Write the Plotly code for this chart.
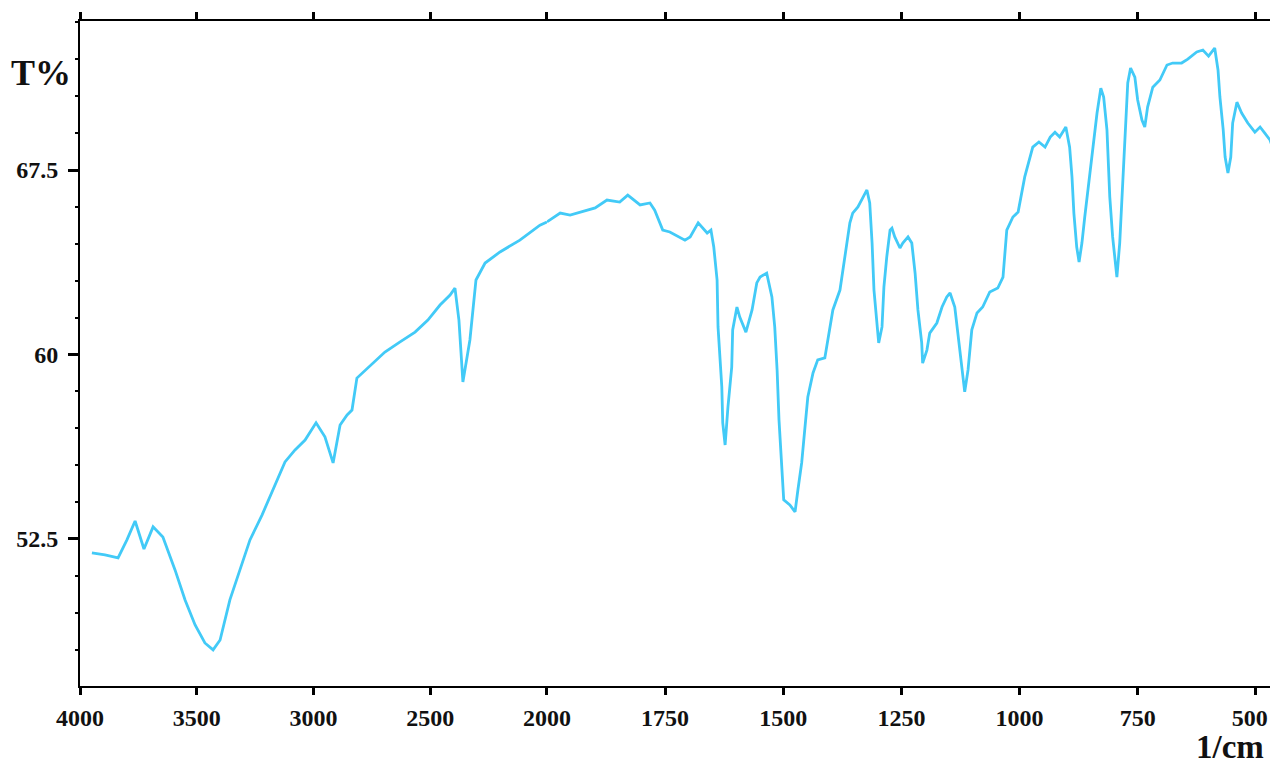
import plotly.graph_objects as go

# ---- data: wavenumber (1/cm) and transmittance (T%) ----
wn_high = [3949, 3893, 3837, 3799, 3764, 3726, 3687, 3645, 3593, 3550, 3507, 3465, 3430, 3400,
           3358, 3315, 3272, 3220, 3165, 3122, 3079, 3036, 2989, 2951, 2916, 2886, 2856, 2835,
           2814, 2758, 2694, 2629, 2565, 2510, 2458, 2415, 2394, 2377, 2360, 2330, 2304, 2265,
           2201, 2116, 2030, 2000]
t_high = [51.93, 51.85, 51.73, 52.46, 53.23, 52.09, 52.99, 52.58, 51.24, 50.02, 49.00, 48.27, 47.99, 48.39,
          50.02, 51.24, 52.46, 53.48, 54.70, 55.63, 56.12, 56.52, 57.22, 56.65, 55.59, 57.13, 57.54, 57.74,
          59.04, 59.53, 60.10, 60.51, 60.91, 61.40, 62.01, 62.42, 62.70, 61.40, 58.88, 60.59, 63.03, 63.72,
          64.17, 64.65, 65.26, 65.39]

wn_low = [2000, 1972, 1951, 1930, 1898, 1873, 1846, 1829, 1803, 1782, 1772, 1755, 1740, 1708, 1697,
          1680, 1661, 1653, 1647, 1640, 1638, 1630, 1628, 1623, 1617, 1609, 1607, 1598, 1592, 1579,
          1566, 1556, 1549, 1535, 1524, 1518, 1513, 1509, 1503, 1499, 1486, 1475, 1469, 1461, 1454,
          1448, 1437, 1427, 1412, 1405, 1395, 1380, 1374, 1365, 1359, 1353, 1342, 1331, 1323, 1317,
          1312, 1308, 1302, 1298, 1291, 1287, 1281, 1274, 1270, 1264, 1253, 1247, 1236, 1228, 1221,
          1215, 1207, 1205, 1196, 1190, 1175, 1164, 1154, 1147, 1137, 1130, 1122, 1116, 1109, 1101,
          1090, 1078, 1063, 1046, 1035, 1027, 1014, 1003, 989, 972, 959, 946, 935, 925, 915,
          902, 894, 889, 885, 879, 874, 868, 862, 853, 845, 836, 828, 822, 815, 809,
          803, 794, 788, 781, 775, 771, 765, 756, 750, 741, 735, 729, 718, 703, 688,
          676, 657, 644, 625, 612, 600, 587, 580, 576, 569, 565, 559, 553, 549, 540,
          530, 517, 502, 491, 481, 470, 460]
t_low = [65.39, 65.75, 65.67, 65.79, 65.96, 66.28, 66.20, 66.48, 66.08, 66.16, 65.87, 65.06, 64.98, 64.65, 64.78,
         65.35, 64.94, 65.06, 64.37, 63.03, 61.12, 58.68, 57.22, 56.32, 57.87, 59.49, 61.00, 61.93, 61.52, 60.91,
         61.81, 62.91, 63.15, 63.31, 62.34, 61.12, 59.37, 57.34, 55.59, 54.09, 53.88, 53.60, 54.49, 55.59, 57.05,
         58.27, 59.25, 59.78, 59.86, 60.71, 61.81, 62.62, 63.43, 64.57, 65.35, 65.75, 66.00, 66.40, 66.69, 66.16,
         64.53, 62.62, 61.40, 60.47, 61.12, 62.74, 63.96, 65.06, 65.14, 64.78, 64.33, 64.53, 64.78, 64.53, 63.31,
         61.81, 60.47, 59.65, 60.18, 60.87, 61.28, 61.93, 62.34, 62.50, 61.93, 60.71, 59.37, 58.48, 59.37, 61.00,
         61.69, 61.93, 62.54, 62.70, 63.15, 65.06, 65.59, 65.79, 67.22, 68.43, 68.64, 68.43, 68.84, 69.04, 68.84,
         69.25, 68.43, 67.22, 65.75, 64.37, 63.76, 64.53, 65.59, 67.09, 68.31, 69.82, 70.83, 70.47, 69.13, 66.40,
         64.78, 63.15, 64.53, 67.09, 69.41, 71.04, 71.65, 71.28, 70.35, 69.53, 69.25, 70.06, 70.87, 71.16, 71.77,
         71.85, 71.85, 72.01, 72.30, 72.38, 72.13, 72.46, 71.57, 70.47, 69.13, 68.03, 67.38, 68.03, 69.41, 70.26,
         69.82, 69.41, 69.04, 69.25, 69.00, 68.72, 68.19]

x_ticks_high = [4000, 3500, 3000, 2500, 2000]
x_ticks_low = [1750, 1500, 1250, 1000, 750, 500]
x_ticklabels_low = ["1750", "1500", "1250", "1000", "750", "500\u00a0\u00a0"]
y_ticks = [52.5, 60, 67.5]
y_ticklabels = ["52.5", "60", "67.5"]

x_range_high = [4000, 2000]
x_range_low = [2000, 470]
y_range = [46.52, 73.56]

LINE_COLOR = "#42CAF7"
split = 0.3924

fig = go.Figure()
fig.add_trace(go.Scatter(x=wn_high, y=t_high, xaxis="x", yaxis="y", mode="lines",
                         line=dict(color=LINE_COLOR, width=2.8), showlegend=False))
fig.add_trace(go.Scatter(x=wn_low, y=t_low, xaxis="x2", yaxis="y", mode="lines",
                         line=dict(color=LINE_COLOR, width=2.8), showlegend=False))

tickfont = dict(family="Liberation Serif", size=24, color="#111111", weight="bold")

def main_x(domain, rng, tickvals, ticktext=None):
    d = dict(domain=domain, range=rng, anchor="y", tickvals=tickvals,
             ticks="outside", ticklen=7, tickwidth=3, tickcolor="black",
             showline=True, linecolor="black", linewidth=2, mirror="ticks",
             showgrid=False, zeroline=False, tickfont=tickfont, ticklabelstandoff=2,
             ticklabeloverflow="allow", automargin=False)
    if ticktext is not None:
        d["ticktext"] = ticktext
    return d

def overlay_x(base, rng, tickvals, minor_dtick):
    return dict(overlaying=base, anchor="y", side="bottom", range=rng, tickvals=tickvals,
                ticks="inside", ticklen=10, tickwidth=3, tickcolor="black",
                showline=True, linecolor="black", linewidth=2, mirror="ticks",
                showticklabels=False, showgrid=False, zeroline=False, automargin=False,
                minor=dict(ticks="inside", ticklen=6, tickwidth=1.5, tickcolor="black",
                           tick0=0, dtick=minor_dtick, showgrid=False))

fig.update_layout(
    width=1271, height=759,
    margin=dict(l=72, r=9, t=13, b=81),
    plot_bgcolor="white", paper_bgcolor="white",
    showlegend=False,
    xaxis=main_x([0, split], x_range_high, x_ticks_high),
    xaxis2=main_x([split, 1], x_range_low, x_ticks_low, x_ticklabels_low),
    xaxis3=overlay_x("x", x_range_high, x_ticks_high, 100),
    xaxis4=overlay_x("x2", x_range_low, [2000] + x_ticks_low, 50),
    yaxis=dict(domain=[0, 1], range=y_range, anchor="x", side="left",
               tickvals=y_ticks, ticktext=y_ticklabels,
               ticks="outside", ticklen=10, tickwidth=3, tickcolor="black",
               showline=True, linecolor="black", linewidth=2,
               showgrid=False, zeroline=False, tickfont=tickfont, ticklabelstandoff=5,
               automargin=False,
               minor=dict(ticks="outside", ticklen=3, tickwidth=1.5, tickcolor="black",
                          tick0=0, dtick=1.5, showgrid=False)),
    yaxis3=dict(overlaying="y", anchor="x", side="left", range=y_range,
                tickvals=y_ticks, ticks="inside", ticklen=12, tickwidth=3, tickcolor="black",
                showline=False, showticklabels=False, showgrid=False, zeroline=False,
                automargin=False,
                minor=dict(ticks="inside", ticklen=7, tickwidth=1.5, tickcolor="black",
                           tick0=0, dtick=1.5, showgrid=False)),
    yaxis2=dict(overlaying="y", anchor="x2", side="right", range=y_range,
                showline=True, linecolor="black", linewidth=2, ticks="",
                showticklabels=False, showgrid=False, zeroline=False, automargin=False),
)

fig.add_annotation(text="T%", xref="paper", yref="paper", x=-0.0328, y=0.9218,
                   xanchor="center", yanchor="middle", showarrow=False,
                   font=dict(family="Liberation Serif", size=36, color="#111111", weight="bold"))
fig.add_annotation(text="1/cm", xref="paper", yref="paper", x=0.9664, y=-0.1218,
                   xanchor="center", yanchor="bottom", showarrow=False,
                   font=dict(family="Liberation Serif", size=33, color="#111111", weight="bold"))

fig.write_html("out.html")
